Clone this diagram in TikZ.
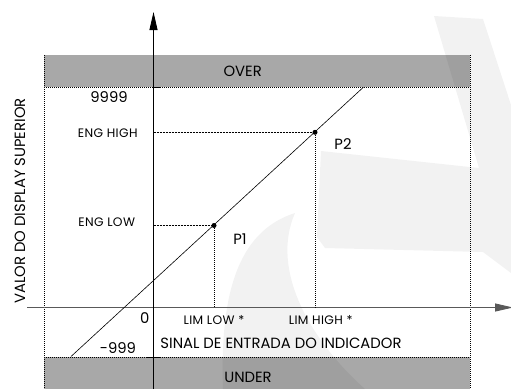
\documentclass[tikz,border=0pt]{standalone}
\usepackage{fontspec}
\setmainfont{Poppins}
\usetikzlibrary{arrows.meta}
\begin{document}
\begin{tikzpicture}[x=1pt,y=-1pt,
  band/.style={fill=bandgray,draw=none},
  wmark/.style={fill=black,fill opacity=0.05,draw=none},
  dotline/.style={line width=0.6pt,dash pattern=on 1pt off 1pt},
  dashline/.style={line width=0.6pt,dash pattern=on 2pt off 1pt},
  axis/.style={line width=0.9pt,-{Triangle[length=18pt,width=8pt]}},
  pt/.style={circle,fill=black,inner sep=0pt,minimum size=5pt},
  big/.style={font=\fontsize{14.8}{17}\selectfont,inner sep=0pt},
  small/.style={font=\fontsize{12.3}{14}\selectfont\addfontfeature{LetterSpace=3},inner sep=0pt}]
\definecolor{bandgray}{HTML}{A8A8A8}
\useasboundingbox (0,0) rectangle (511,389);
% bands
\fill[band] (44,55) rectangle (470,87);
\fill[band] (44,357) rectangle (470,389);
% watermark
\fill[wmark] (321,151) -- (479,168) -- (434,16) -- (483,19) -- (511,105) -- (511,273)
  -- (483,252) -- (325,248) -- (317,237) -- cycle;
\fill[wmark] (295,213) .. controls (235,232) and (220,300) .. (223,389) -- (365,389)
  .. controls (310,340) and (270,270) .. (295,213) -- cycle;
% frame
\draw[dotline] (44,55) -- (44,389);
\draw[dotline] (470,55) -- (470,389);
\draw[dotline] (44,87) -- (470,87);
\draw[dotline] (44,357) -- (470,357);
% coordinates
\coordinate (ybot) at (153.5,389);
\coordinate (ytop) at (153.5,12);
\coordinate (xl) at (27,307.5);
\coordinate (xr) at (513,307.5);
\coordinate (lineA) at (71,356.5);
\coordinate (lineB) at (363.3,87.3);
\coordinate (yP1) at (153.5,225.5);
\coordinate (yP2) at (153.5,132.3);
\coordinate (xP1) at (214,307.5);
\coordinate (xP2) at (315,307.5);
% ticks
\draw[line width=0.6pt] (153.5,87) -- (160,87);
\draw[line width=0.6pt] (147,357) -- (161,357);
% axes
\draw[axis,draw=black!65,fill=black] (xl) -- (xr);
\draw[axis] (ybot) -- (ytop);
% characteristic line
\draw[line width=0.6pt] (lineA) -- (lineB);
\node[pt] (P1) at (214,225.5) {};
\node[pt] (P2) at (315,132.3) {};
\draw[dashline] (yP1) -- (P1);
\draw[dashline] (yP2) -- (P2);
\draw[dotline] (P1) -- (xP1);
\draw[dotline] (P2) -- (xP2);
% labels
\node[big] (over) at (242.7,71) {OVER};
\node[big] (under) at (248,377.7) {UNDER};
\node[big] (n9999) at (109,96.7) {9999};
\node[small] (enghigh) at (107.7,133.3) {ENG HIGH};
\node[small] (englow) at (106.7,222.3) {ENG LOW};
\node[big] (p2lab) at (343,144) {P2};
\node[big] (p1lab) at (240,238.7) {P1};
\node[big] (zero) at (144.7,318.3) {0};
\node[small] (limlow) at (214,320) {LIM LOW *};
\node[small] (limhigh) at (320.7,320) {LIM HIGH *};
\node[big] (n999) at (118,348) {-999};
\node[big] (sinal) at (281,343.3) {SINAL DE ENTRADA DO INDICADOR};
\node[big,rotate=90] (valor) at (20,201) {VALOR DO DISPLAY SUPERIOR};
\end{tikzpicture}
\end{document}
